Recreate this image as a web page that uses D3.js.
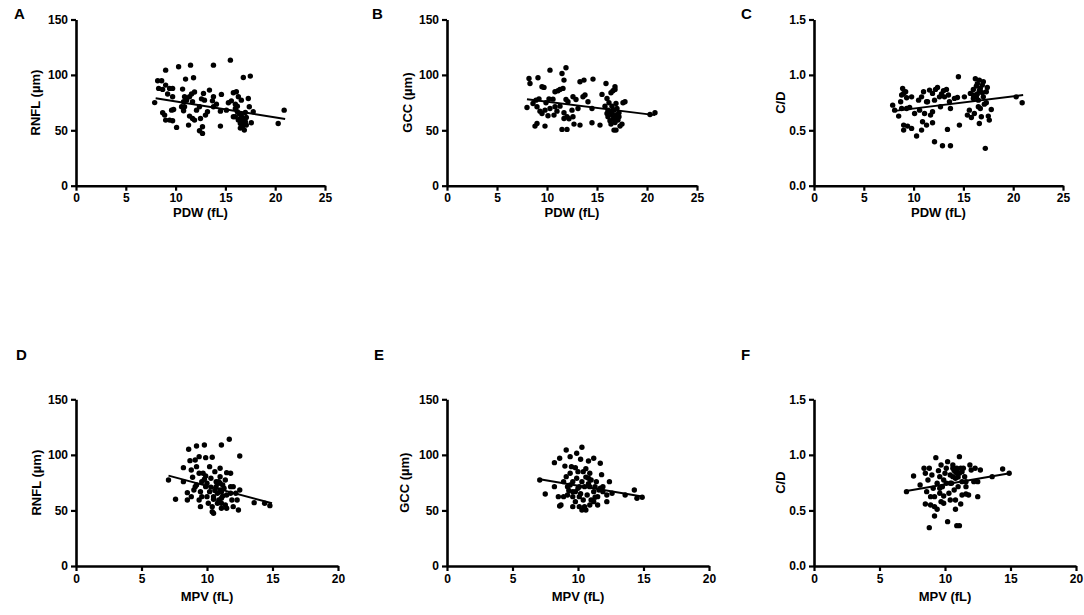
<!DOCTYPE html>
<html>
<head>
<meta charset="utf-8">
<script src="https://cdn.jsdelivr.net/npm/d3@7"></script>
<style>
  body { margin: 0; background: #fff; }
  svg { display: block; font-family: "Liberation Sans", Arial, sans-serif; }
</style>
</head>
<body>
<svg id="chart" width="1084" height="615"></svg>
<script>
// Panel A: PDW vs RNFL
const pdwRnfl = [
  [7.9,75],[8.2,94.7],[8.6,94.7],[8.3,87.8],[8.7,86.9],[9.0,104.3],[9.0,90.8],[9.4,87.8],[9.7,87.8],
  [9.2,82.7],[9.7,80.3],[8.7,65.8],[8.9,63.7],[9.0,59.2],[9.4,59.2],[9.7,58.6],[9.6,68.2],[9.8,68.8],
  [10.1,52.6],[10.3,107.3],[10.7,87.2],[11.0,96.2],[11.1,77.2],[10.8,75.7],[10.9,71.2],[10.8,67.6],
  [11.5,108.8],[11.8,97.4],[11.6,82.7],[11.9,84.5],[11.4,80.3],[11.7,75.7],[11.3,54.7],[11.4,62.8],
  [11.7,60.7],[11.9,59.2],[12.1,68.2],[12.4,71.2],[12.4,49.6],[12.7,47.2],[12.7,53.2],[12.6,78.4],
  [12.9,77.2],[13.0,63.7],[13.2,66.7],[13.4,86.3],[13.7,76.6],[13.8,108.8],[13.8,80.3],[14.1,73.6],
  [14.5,67.3],[14.6,82.4],[14.5,53.8],[15.5,113.3],[15.3,74.8],[15.6,76.6],[15.8,83.9],[16.0,73.6],
  [16.1,84.8],[16.3,80.3],[16.0,69.7],[16.2,66.7],[16.0,62.2],[16.3,59.2],[16.5,56.2],[16.6,63.7],
  [16.7,53.2],[16.9,50.2],[17.0,57.7],[17.1,54.7],[16.6,77.2],[16.8,97.7],[17.3,78.7],[17.5,98.9],
  [17.4,71.2],[17.6,56.8],[17.8,66.7],[20.3,56.2],[20.9,68.2],[16.2,71.8],[15.8,62.2],[16.5,60.7],
  [17.1,61.6],[12.5,60.7],[10.6,71.2],[13.8,71.2],[10.9,80.3],[12.8,83.3],[15.1,68.2],
  [16.4,65.0],[16.6,58.0],[16.8,61.0],[16.9,55.0],[16.5,52.0],[17.0,66.0]
];
const pdwRnflFit = [[8.0,79.0],[21.0,60.3]];

// Panel B: PDW vs GCC
const pdwGcc = [
  [8.0,70.6],[8.2,96.8],[8.3,92.3],[9.1,97.4],[8.6,74.2],[8.9,77.2],[9.2,78.4],[9.0,71.2],[9.3,67.3],
  [9.5,89.3],[9.7,88.7],[9.5,65.2],[9.8,68.2],[9.9,74.8],[8.8,53.8],[9.0,56.2],[9.8,53.8],[10.1,63.1],
  [10.3,104.3],[10.2,78.4],[10.6,78.1],[10.8,84.8],[11.1,85.7],[11.3,86.9],[10.8,71.2],[11.0,67.3],
  [11.5,101.3],[11.9,106.4],[11.7,95.3],[11.6,87.8],[11.9,77.8],[12.1,75.7],[11.5,50.8],[12.0,50.8],
  [11.7,65.8],[11.7,60.7],[12.0,62.2],[12.2,60.4],[12.5,68.2],[12.6,62.2],[12.7,55.6],[12.6,80.3],
  [12.9,77.8],[13.1,69.7],[13.3,54.7],[13.3,93.8],[13.7,95.3],[13.6,80.3],[13.8,81.8],[14.1,75.7],
  [14.6,96.2],[14.5,69.7],[14.5,56.8],[15.3,54.7],[15.5,82.4],[15.8,71.8],[15.9,92.3],[16.0,78.7],
  [16.2,74.8],[16.4,83.9],[16.6,85.7],[16.8,89.3],[16.8,86.9],[16.0,65.2],[16.1,62.2],[16.3,58.6],
  [16.4,55.6],[16.6,68.2],[16.6,63.7],[16.7,50.2],[16.9,50.2],[16.9,60.7],[17.0,69.7],[17.1,59.2],
  [17.2,65.8],[17.3,53.8],[17.5,55.6],[17.2,62.2],[17.6,74.8],[17.8,75.7],[16.5,71.8],[16.9,74.2],
  [20.3,64.3],[20.8,65.8],[16.1,68.2],[16.7,68.2],[11.3,71.8],[10.7,63.7],[10.3,69.7],
  [16.4,66.0],[16.6,60.0],[16.8,57.0],[16.5,64.0],[17.0,64.0]
];
const pdwGccFit = [[8.0,78.1],[20.8,63.7]];

// Panel C: PDW vs C/D
const pdwCd = [
  [7.9,0.727],[8.1,0.682],[8.5,0.628],[8.7,0.757],[8.9,0.878],[9.0,0.833],[9.2,0.848],[8.8,0.818],
  [9.3,0.794],[9.0,0.547],[9.0,0.502],[9.4,0.538],[9.8,0.517],[9.3,0.697],[9.6,0.706],[9.8,0.802],
  [10.3,0.448],[10.5,0.772],[10.6,0.682],[10.8,0.502],[10.8,0.802],[11.0,0.848],[10.9,0.577],
  [11.1,0.652],[11.3,0.547],[11.4,0.757],[11.6,0.863],[11.7,0.637],[11.9,0.568],[11.9,0.833],
  [12.1,0.772],[12.2,0.869],[12.1,0.397],[12.4,0.887],[12.6,0.802],[12.8,0.827],[12.7,0.712],
  [12.9,0.361],[13.0,0.857],[13.1,0.802],[13.3,0.869],[13.4,0.508],[13.6,0.757],[13.7,0.697],
  [13.7,0.361],[14.1,0.788],[14.4,0.796],[14.5,0.983],[14.6,0.547],[15.1,0.802],[15.4,0.637],
  [15.6,0.682],[15.7,0.833],[15.8,0.616],[16.0,0.869],[16.0,0.788],[16.1,0.652],[16.2,0.965],
  [16.3,0.899],[16.4,0.827],[16.5,0.772],[16.6,0.953],[16.6,0.562],[16.7,0.697],[16.7,0.878],
  [16.9,0.908],[16.8,0.622],[17.0,0.802],[17.0,0.938],[17.1,0.736],[17.2,0.337],[17.3,0.848],
  [17.4,0.887],[17.5,0.628],[17.6,0.592],[17.8,0.688],[16.0,0.818],[16.5,0.712],[20.3,0.802],
  [20.9,0.748],[11.9,0.667],[10.1,0.652],[11.3,0.757],[13.5,0.818],[17.3,0.748],[8.8,0.697],
  [16.4,0.920],[16.6,0.860],[16.9,0.840],[16.3,0.800]
];
const pdwCdFit = [[7.9,0.673],[21.0,0.818]];

// Panel D: MPV vs RNFL
const mpvRnfl = [
  [7.06,77.4],[7.6,60.0],[8.2,88.5],[8.2,75.9],[8.5,66.0],[8.6,105.0],[8.7,94.8],[8.8,86.4],[8.9,79.8],
  [8.5,59.4],[8.8,62.4],[9.0,68.4],[9.1,95.4],[9.2,108.0],[9.2,89.4],[9.4,83.4],[9.2,72.9],[9.4,59.4],
  [9.5,53.4],[9.5,66.9],[9.6,75.9],[9.4,98.4],[9.8,108.9],[9.9,97.5],[9.7,83.4],[9.9,81.0],[9.9,71.4],
  [10.0,62.4],[10.1,56.4],[10.2,66.9],[10.3,78.9],[10.4,97.8],[10.2,89.4],[10.4,53.4],[10.4,48.9],
  [10.5,47.4],[10.5,60.0],[10.6,84.9],[10.7,71.4],[10.8,65.4],[10.8,56.4],[10.9,75.9],[11.0,80.4],
  [11.0,87.9],[11.1,66.9],[11.1,60.9],[11.1,51.9],[11.2,72.9],[11.3,69.9],[11.4,54.9],[11.5,84.0],
  [11.5,63.9],[11.7,114.0],[11.8,83.4],[11.8,71.4],[11.9,59.4],[12.0,53.4],[11.1,108.9],[12.0,71.4],
  [12.2,65.4],[12.3,59.4],[12.4,50.4],[12.5,99.0],[12.5,68.4],[13.6,57.0],[14.4,56.4],[14.8,54.3],
  [11.0,68.4],[10.7,75.9],[10.0,74.4],[9.1,71.4],[11.4,77.4],[11.8,65.4],[10.5,62.4],[9.6,62.4],
  [10.9,59.4],[11.1,56.4],[11.5,51.9],[10.8,74.4],[11.0,74.4],
  [10.6,68.0],[11.2,63.0],[10.3,71.0],[9.8,78.0]
];
const mpvRnflFit = [[7.06,81.3],[14.96,56.4]];

// Panel E: MPV vs GCC
const mpvGcc = [
  [7.08,77.4],[7.5,64.8],[8.2,93.0],[8.2,71.4],[8.6,96.9],[8.5,62.4],[8.6,54.0],[8.7,54.9],[8.9,62.4],
  [8.9,75.9],[9.0,89.9],[9.1,104.4],[9.2,71.4],[9.2,63.9],[9.4,98.4],[9.4,83.4],[9.5,89.4],[9.6,66.9],
  [9.6,75.9],[9.6,53.4],[9.8,57.9],[9.8,88.5],[9.9,101.4],[9.9,78.9],[10.0,69.9],[10.1,62.4],[10.1,53.4],
  [10.2,96.0],[10.3,75.9],[10.3,50.4],[10.3,106.8],[10.4,84.9],[10.5,71.4],[10.6,87.6],[10.6,50.4],
  [10.7,63.9],[10.8,78.9],[10.8,94.5],[10.9,54.9],[10.9,71.4],[11.0,59.4],[11.0,77.4],[11.2,96.9],
  [11.2,66.9],[11.3,71.4],[11.4,75.9],[11.5,54.9],[11.5,62.4],[11.7,69.9],[11.7,92.4],[11.8,82.2],
  [11.9,66.9],[12.2,63.9],[12.2,57.9],[12.4,75.9],[12.6,65.4],[13.6,63.9],[14.3,68.4],[14.5,60.9],
  [14.9,61.8],[9.1,80.4],[10.1,71.4],[11.2,57.9],[10.4,59.4],[9.8,66.9],[10.9,83.4],[9.6,62.4],
  [11.9,71.4],[11.3,61.8],[10.5,53.4],[9.4,72.9],[10.0,84.9],[11.6,68.4],
  [10.6,80.0],[10.8,74.0],[10.2,65.0],[9.3,68.0]
];
const mpvGccFit = [[7.08,78.0],[15.0,62.4]];

// Panel F: MPV vs C/D
const mpvCd = [
  [7.06,0.669],[7.6,0.810],[8.1,0.729],[8.4,0.879],[8.5,0.834],[8.5,0.558],[8.6,0.669],[8.7,0.774],
  [8.8,0.879],[8.9,0.624],[8.9,0.549],[8.8,0.345],[9.0,0.819],[9.1,0.699],[9.2,0.450],[9.2,0.534],
  [9.3,0.975],[9.4,0.744],[9.4,0.510],[9.5,0.858],[9.6,0.654],[9.6,0.804],[9.7,0.579],[9.7,0.909],
  [9.8,0.714],[9.9,0.630],[9.9,0.564],[10.0,0.834],[10.1,0.744],[10.1,0.879],[10.2,0.399],[10.2,0.939],
  [10.3,0.654],[10.4,0.819],[10.4,0.594],[10.5,0.744],[10.6,0.909],[10.6,0.804],[10.7,0.684],
  [10.8,0.849],[10.8,0.510],[10.8,0.789],[10.9,0.363],[10.9,0.879],[11.0,0.714],[11.1,0.984],
  [11.1,0.834],[11.1,0.363],[11.2,0.558],[11.3,0.759],[11.3,0.639],[11.4,0.879],[11.5,0.804],
  [11.6,0.714],[11.6,0.648],[11.8,0.639],[11.9,0.909],[12.0,0.864],[12.2,0.759],[12.3,0.879],
  [12.5,0.624],[12.5,0.759],[12.7,0.864],[13.6,0.804],[14.4,0.873],[14.9,0.834],[10.6,0.879],
  [10.9,0.834],[10.4,0.744],[9.6,0.699],[9.2,0.624],[11.3,0.849],[11.6,0.759],[9.9,0.774],[10.8,0.594],
  [10.7,0.860],[11.0,0.800],[10.9,0.850],[11.2,0.880]
];
const mpvCdFit = [[7.06,0.675],[14.95,0.834]];

// Tick values
const pdwTicks = [0, 5, 10, 15, 20, 25];
const mpvTicks = [0, 5, 10, 15, 20];
const umTicks = [0, 50, 100, 150];
const ratioTicks = [0, 0.5, 1.0, 1.5];

const panels = [
  { letter: "A", data: pdwRnfl, fit: pdwRnflFit, xTicks: pdwTicks, yTicks: umTicks, xLabel: "PDW (fL)", yLabel: "RNFL (\u00b5m)", yFmt: d3.format("d") },
  { letter: "B", data: pdwGcc,  fit: pdwGccFit,  xTicks: pdwTicks, yTicks: umTicks, xLabel: "PDW (fL)", yLabel: "GCC (\u00b5m)",  yFmt: d3.format("d") },
  { letter: "C", data: pdwCd,   fit: pdwCdFit,   xTicks: pdwTicks, yTicks: ratioTicks, xLabel: "PDW (fL)", yLabel: "C/D", yFmt: d3.format(".1f") },
  { letter: "D", data: mpvRnfl, fit: mpvRnflFit, xTicks: mpvTicks, yTicks: umTicks, xLabel: "MPV (fL)", yLabel: "RNFL (\u00b5m)", yFmt: d3.format("d") },
  { letter: "E", data: mpvGcc,  fit: mpvGccFit,  xTicks: mpvTicks, yTicks: umTicks, xLabel: "MPV (fL)", yLabel: "GCC (\u00b5m)",  yFmt: d3.format("d") },
  { letter: "F", data: mpvCd,   fit: mpvCdFit,   xTicks: mpvTicks, yTicks: ratioTicks, xLabel: "MPV (fL)", yLabel: "C/D", yFmt: d3.format(".1f") }
];

// Pixel frame of each plot (measured from the layout)
const frames = [
  { x0: 76,  x1: 325,  y0: 19.5,  y1: 185.7, letterX: 14,  letterY: 19,  yTitleX: 35,  titleDy: 31 },
  { x0: 447, x1: 697,  y0: 19.5,  y1: 185.7, letterX: 372, letterY: 19,  yTitleX: 407, titleDy: 31 },
  { x0: 814, x1: 1063, y0: 19.5,  y1: 185.7, letterX: 741, letterY: 19,  yTitleX: 780, titleDy: 31 },
  { x0: 76,  x1: 338,  y0: 399.3, y1: 566,   letterX: 16,  letterY: 360, yTitleX: 36,  titleDy: 35 },
  { x0: 447, x1: 709,  y0: 399.3, y1: 566,   letterX: 374, letterY: 360, yTitleX: 404, titleDy: 35 },
  { x0: 814, x1: 1076, y0: 399.3, y1: 566,   letterX: 741, letterY: 360, yTitleX: 780, titleDy: 35 }
];

const svg = d3.select("#chart");

panels.forEach((p, i) => {
  const f = frames[i];
  const x = d3.scaleLinear()
      .domain([0, d3.max(p.xTicks)])
      .range([f.x0, f.x1]);
  const y = d3.scaleLinear()
      .domain([0, d3.max(p.yTicks)])
      .range([f.y1, f.y0]);

  const g = svg.append("g");

  // Axes
  const xAxis = g.append("g")
      .attr("transform", `translate(0,${f.y1})`)
      .call(d3.axisBottom(x).tickValues(p.xTicks).tickSize(5).tickSizeOuter(0).tickPadding(3));
  const yAxis = g.append("g")
      .attr("transform", `translate(${f.x0},0)`)
      .call(d3.axisLeft(y).tickValues(p.yTicks).tickFormat(p.yFmt).tickSize(5).tickSizeOuter(0).tickPadding(3));

  [xAxis, yAxis].forEach(a => {
    a.select(".domain").attr("stroke", "#000").attr("stroke-width", 2.6);
    a.selectAll(".tick line").attr("stroke", "#000").attr("stroke-width", 2.2);
    a.selectAll(".tick text")
      .attr("fill", "#000")
      .style("font-family", "'Liberation Sans', Arial, sans-serif")
      .style("font-size", "12px")
      .style("font-weight", "bold");
  });

  // Axis titles
  g.append("text")
      .attr("x", (f.x0 + f.x1) / 2)
      .attr("y", f.y1 + f.titleDy)
      .attr("text-anchor", "middle")
      .style("font-size", "13px")
      .style("font-weight", "bold")
      .text(p.xLabel);

  g.append("text")
      .attr("transform", `translate(${f.yTitleX + 4.5},${(f.y0 + f.y1) / 2}) rotate(-90)`)
      .attr("text-anchor", "middle")
      .style("font-size", "13px")
      .style("font-weight", "bold")
      .text(p.yLabel);

  // Panel letter
  g.append("text")
      .attr("x", f.letterX)
      .attr("y", f.letterY)
      .style("font-size", "15px")
      .style("font-weight", "bold")
      .text(p.letter);

  // Points
  g.append("g")
    .selectAll("circle")
    .data(p.data)
    .enter()
    .append("circle")
      .attr("cx", d => x(d[0]))
      .attr("cy", d => y(d[1]))
      .attr("r", 2.7)
      .attr("fill", "#000");

  // Regression line
  g.append("path")
      .datum(p.fit)
      .attr("d", d3.line().x(d => x(d[0])).y(d => y(d[1])))
      .attr("fill", "none")
      .attr("stroke", "#000")
      .attr("stroke-width", 2);
});
</script>
</body>
</html>
